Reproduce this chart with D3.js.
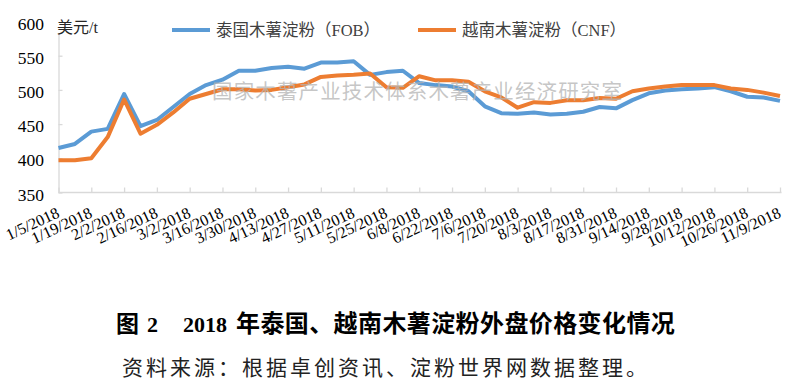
<!DOCTYPE html>
<html>
<head>
<meta charset="utf-8">
<script src="https://cdn.jsdelivr.net/npm/d3@7"></script>
<style>
  body { margin: 0; background: #fff; }
  svg { display: block; }
</style>
</head>
<body>
<svg id="chart" width="790" height="385"></svg>
<script>
// weekly categories (2018)
const weeks = ['1/5/2018', '1/12/2018', '1/19/2018', '1/26/2018', '2/2/2018', '2/9/2018', '2/16/2018',
  '2/23/2018', '3/2/2018', '3/9/2018', '3/16/2018', '3/23/2018', '3/30/2018', '4/6/2018', '4/13/2018',
  '4/20/2018', '4/27/2018', '5/4/2018', '5/11/2018', '5/18/2018', '5/25/2018', '6/1/2018', '6/8/2018',
  '6/15/2018', '6/22/2018', '6/29/2018', '7/6/2018', '7/13/2018', '7/20/2018', '7/27/2018', '8/3/2018',
  '8/10/2018', '8/17/2018', '8/24/2018', '8/31/2018', '9/7/2018', '9/14/2018', '9/21/2018', '9/28/2018',
  '10/5/2018', '10/12/2018', '10/19/2018', '10/26/2018', '11/2/2018', '11/9/2018'];

const tickLabels = ['1/5/2018', '1/19/2018', '2/2/2018', '2/16/2018', '3/2/2018', '3/16/2018', '3/30/2018',
  '4/13/2018', '4/27/2018', '5/11/2018', '5/25/2018', '6/8/2018', '6/22/2018', '7/6/2018', '7/20/2018',
  '8/3/2018', '8/17/2018', '8/31/2018', '9/14/2018', '9/28/2018', '10/12/2018', '10/26/2018', '11/9/2018'];

// 泰国木薯淀粉 (FOB), USD/t
const thaiFob = [415, 421, 439, 443, 494, 447, 456, 475, 494, 507, 515, 528, 528, 532, 534, 531, 540, 540,
  542, 522, 526, 528, 510, 507, 505, 498, 476, 466, 465, 467, 464, 465, 468, 475, 473, 485, 495, 499, 501,
  502, 504, 498, 490, 489, 484];

// 越南木薯淀粉 (CNF), USD/t
const vietCnf = [397, 397, 400, 431, 486, 436, 449, 467, 487, 494, 501, 501, 499, 500, 504, 508, 519, 521,
  522, 524, 504, 503, 520, 514, 514, 512, 498, 489, 474, 482, 481, 485, 485, 488, 487, 498, 502, 505, 507,
  507, 507, 502, 500, 496, 491];

const yTicks = [350, 400, 450, 500, 550, 600];

const seriesNames = ['泰国木薯淀粉（FOB）', '越南木薯淀粉（CNF）'];
const colors = ['#5b9bd5', '#ed7d31'];

const latin = '"Liberation Serif", "Times New Roman", serif';
const mixed = '"Liberation Serif", "Noto Sans CJK SC", serif';
const cjk = '"Noto Sans CJK SC", sans-serif';

const svg = d3.select('#chart');

const x = d3.scalePoint()
    .domain(weeks)
    .range([58.5, 780]);

const y = d3.scaleLinear()
    .domain([350, 600])
    .range([192.5, 21.5]);

// axes
const xAxis = svg.append('g')
    .attr('transform', 'translate(0,192.5)')
    .call(d3.axisBottom(x).tickValues(tickLabels).tickSizeInner(-5).tickSizeOuter(0).tickFormat(''));
xAxis.select('.domain').attr('d', 'M58.5,0H781.5');
xAxis.selectAll('path, line').attr('stroke', '#d9d9d9').attr('stroke-width', 1.3);

xAxis.selectAll('.xlab')
    .data(tickLabels)
    .join('text')
    .attr('class', 'xlab')
    .attr('text-anchor', 'end')
    .attr('transform', d => `translate(${x(d) + 2},${24}) rotate(-25)`)
    .attr('font-family', latin)
    .attr('font-size', 16)
    .attr('fill', '#000')
    .text(d => d);

const yAxis = svg.append('g')
    .attr('transform', 'translate(58.5,0)')
    .call(d3.axisLeft(y).tickValues(yTicks).tickSizeInner(-4).tickSizeOuter(0).tickFormat(''));
yAxis.selectAll('path, line').attr('stroke', '#d9d9d9').attr('stroke-width', 1.3);

svg.append('g')
    .selectAll('text')
    .data(yTicks)
    .join('text')
    .attr('x', 44)
    .attr('y', d => y(d) + 2)
    .attr('dy', '0.35em')
    .attr('text-anchor', 'end')
    .attr('font-family', latin)
    .attr('font-size', 17.5)
    .attr('fill', '#000')
    .text(d => d);

// unit label, sits over the top of the axis
svg.append('rect')
    .attr('x', 56).attr('y', 15).attr('width', 46).attr('height', 20)
    .attr('fill', '#fff');
svg.append('text')
    .attr('x', 57)
    .attr('y', 27)
    .attr('dy', '0.35em')
    .attr('font-family', mixed)
    .attr('font-size', 16)
    .attr('fill', '#262626')
    .text('美元/t');

// lines
const line = d3.line()
    .x((d, i) => x(weeks[i]))
    .y(d => y(d));

[thaiFob, vietCnf].forEach((s, k) => {
  svg.append('path')
      .datum(s)
      .attr('fill', 'none')
      .attr('stroke', colors[k])
      .attr('stroke-width', 4)
      .attr('stroke-linejoin', 'round')
      .attr('d', line);
});

// watermark
svg.append('text')
    .attr('x', 212)
    .attr('y', 92)
    .attr('dy', '0.35em')
    .attr('font-family', cjk)
    .attr('font-size', 20.5)
    .attr('textLength', 410)
    .attr('fill', '#b4b4b4')
    .attr('fill-opacity', 0.75)
    .text('国家木薯产业技术体系木薯产业经济研究室');

// legend
const legendX = [172, 418];
seriesNames.forEach((name, k) => {
  svg.append('line')
      .attr('x1', legendX[k]).attr('x2', legendX[k] + 38)
      .attr('y1', 30).attr('y2', 30)
      .attr('stroke', colors[k])
      .attr('stroke-width', 4);
  svg.append('text')
      .attr('x', legendX[k] + 44)
      .attr('y', 30)
      .attr('dy', '0.35em')
      .attr('font-family', mixed)
      .attr('font-size', 16.5)
      .attr('fill', '#404040')
      .text(name);
});

// caption
const title = svg.append('text')
    .attr('y', 332)
    .attr('font-weight', 'bold')
    .attr('font-size', 22)
    .attr('fill', '#000');
title.append('tspan').attr('x', 116).attr('font-family', cjk).attr('font-size', 23).text('图');
title.append('tspan').attr('x', 147).attr('font-family', latin).text('2');
title.append('tspan').attr('x', 183).attr('font-family', latin).text('2018');
title.append('tspan').attr('x', 236).attr('font-family', cjk).attr('font-size', 24)
    .attr('letter-spacing', 0.4).text('年泰国、越南木薯淀粉外盘价格变化情况');

svg.append('text')
    .attr('x', 122)
    .attr('y', 375)
    .attr('font-family', cjk)
    .attr('font-size', 21)
    .attr('fill', '#222')
    .attr('letter-spacing', 3)
    .text('资料来源：根据卓创资讯、淀粉世界网数据整理。');
</script>
</body>
</html>
